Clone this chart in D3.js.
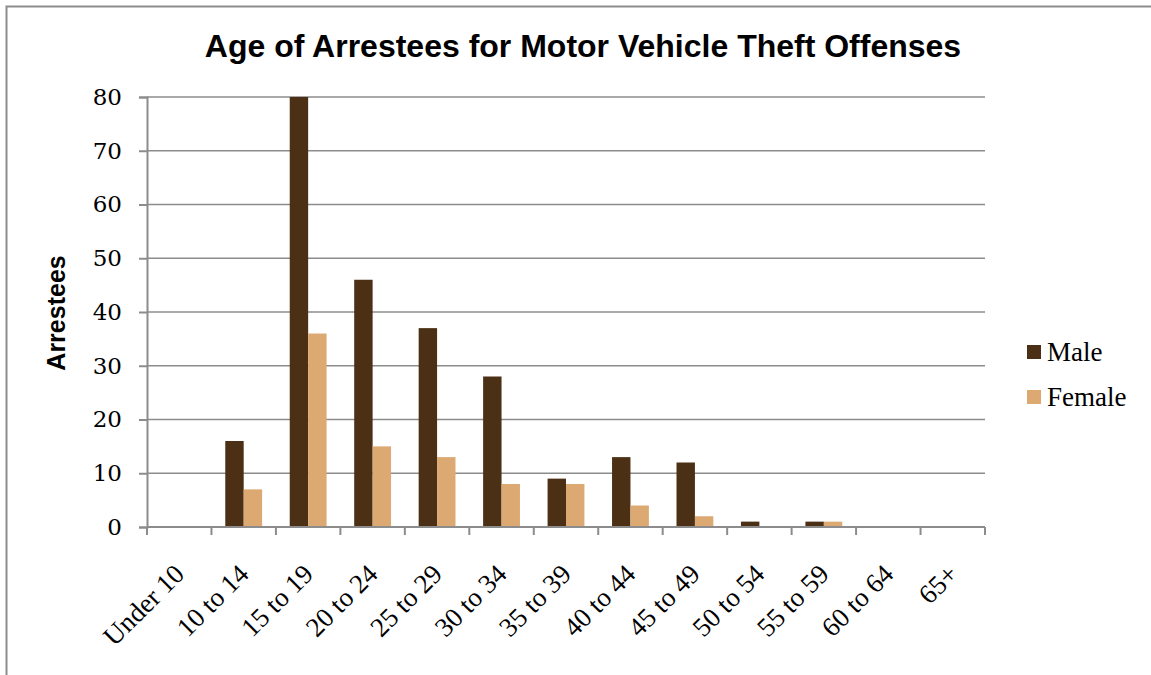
<!DOCTYPE html>
<html>
<head>
<meta charset="utf-8">
<script src="https://cdn.jsdelivr.net/npm/d3@7"></script>
<style>
  body { margin: 0; background: #fff; }
  text { fill: #000; }
</style>
</head>
<body>
<div id="chart"></div>
<script>
// chart data
var ageGroups = ["Under 10", "10 to 14", "15 to 19", "20 to 24", "25 to 29", "30 to 34",
    "35 to 39", "40 to 44", "45 to 49", "50 to 54", "55 to 59", "60 to 64", "65+"];
var maleCounts = [0, 16, 80, 46, 37, 28, 9, 13, 12, 1, 1, 0, 0];
var femaleCounts = [0, 7, 36, 15, 13, 8, 8, 4, 2, 0, 1, 0, 0];
var seriesNames = ["Male", "Female"];
var yTicks = [0, 10, 20, 30, 40, 50, 60, 70, 80];

var width = 1151;
var height = 675;
var margin = { top: 97, right: 166, bottom: 148, left: 147 };
var serif = "'Liberation Serif', 'DejaVu Serif', serif";
var sans = "'Liberation Sans', Arial, sans-serif";

var svg = d3.select("#chart")
    .append("svg")
    .attr("width", width)
    .attr("height", height);

// outer frame (right and bottom edges run off the picture)
svg.append("rect")
    .attr("x", 6.5)
    .attr("y", 6.5)
    .attr("width", width + 20)
    .attr("height", height + 20)
    .attr("fill", "none")
    .attr("stroke", "#8c8c8c")
    .attr("stroke-width", 2);

var x = d3.scaleBand()
    .domain(ageGroups)
    .range([margin.left, width - margin.right])
    .paddingInner(0)
    .paddingOuter(0);

var xSeries = d3.scaleBand()
    .domain(seriesNames)
    .range([0, x.bandwidth()])
    .paddingInner(0)
    .paddingOuter(0.75);

var y = d3.scaleLinear()
    .domain([0, 80])
    .range([height - margin.bottom, margin.top]);

var colors = d3.scaleOrdinal()
    .domain(seriesNames)
    .range(["#4b3015", "#dda972"]);

// gridlines
svg.append("g")
    .selectAll("line")
    .data(yTicks.slice(1))
    .enter()
    .append("line")
    .attr("x1", margin.left)
    .attr("x2", width - margin.right)
    .attr("y1", function(d) { return y(d); })
    .attr("y2", function(d) { return y(d); })
    .attr("stroke", "#8c8c8c")
    .attr("stroke-width", 1.6);

// y axis
var yAxis = svg.append("g")
    .attr("transform", "translate(" + margin.left + ",0)")
    .call(d3.axisLeft(y).tickValues(yTicks).tickSize(8).tickPadding(17));
yAxis.select(".domain").attr("stroke", "#8c8c8c").attr("stroke-width", 2);
yAxis.selectAll(".tick line").attr("stroke", "#8c8c8c").attr("stroke-width", 2);
yAxis.selectAll(".tick text")
    .style("font-family", "'DejaVu Serif', serif")
    .style("font-size", "23px")
    .attr("fill", "#000");

// bars
var rows = ageGroups.map(function(g, i) {
    return { group: g, values: [
        { name: "Male", value: maleCounts[i] },
        { name: "Female", value: femaleCounts[i] }
    ] };
});

var groups = svg.append("g")
    .selectAll("g")
    .data(rows)
    .enter()
    .append("g")
    .attr("transform", function(d) { return "translate(" + x(d.group) + ",0)"; });

groups.selectAll("rect")
    .data(function(d) { return d.values; })
    .enter()
    .append("rect")
    .attr("x", function(d) { return xSeries(d.name); })
    .attr("width", xSeries.bandwidth())
    .attr("y", function(d) { return y(d.value); })
    .attr("height", function(d) { return y(0) - y(d.value); })
    .attr("fill", function(d) { return colors(d.name); });

// x axis
var xAxis = svg.append("g")
    .attr("transform", "translate(0," + (height - margin.bottom) + ")")
    .call(d3.axisBottom(x).tickSize(0).tickFormat(""));
xAxis.select(".domain").remove();
xAxis.append("line")
    .attr("x1", margin.left)
    .attr("x2", width - margin.right)
    .attr("stroke", "#8c8c8c")
    .attr("stroke-width", 2);
// tick marks sit on band boundaries
xAxis.selectAll(".bound")
    .data(ageGroups.concat(["end"]))
    .enter()
    .append("line")
    .attr("x1", function(d, i) { return margin.left + i * x.bandwidth(); })
    .attr("x2", function(d, i) { return margin.left + i * x.bandwidth(); })
    .attr("y1", 0)
    .attr("y2", 8)
    .attr("stroke", "#8c8c8c")
    .attr("stroke-width", 2);

xAxis.selectAll(".lbl")
    .data(ageGroups)
    .enter()
    .append("text")
    .attr("transform", function(d) {
        return "translate(" + (x(d) + x.bandwidth() / 2) + ",42) rotate(-45)";
    })
    .attr("text-anchor", "end")
    .attr("dy", "0.35em")
    .style("font-family", serif)
    .style("font-size", "27px")
    .text(function(d) { return d; });

// title
svg.append("text")
    .attr("x", 583)
    .attr("y", 57)
    .attr("text-anchor", "middle")
    .style("font-family", sans)
    .style("font-weight", "bold")
    .style("font-size", "32px")
    .text("Age of Arrestees for Motor Vehicle Theft Offenses");

// y axis label
svg.append("text")
    .attr("transform", "translate(65,313) rotate(-90)")
    .attr("text-anchor", "middle")
    .style("font-family", sans)
    .style("font-weight", "bold")
    .style("font-size", "25px")
    .text("Arrestees");

// legend
var legend = svg.append("g")
    .selectAll("g")
    .data(seriesNames)
    .enter()
    .append("g")
    .attr("transform", function(d, i) { return "translate(1027," + (345 + i * 45) + ")"; });

legend.append("rect")
    .attr("width", 14)
    .attr("height", 14)
    .attr("fill", function(d) { return colors(d); });

legend.append("text")
    .attr("x", 20)
    .attr("y", 7)
    .attr("dy", "0.35em")
    .style("font-family", serif)
    .style("font-size", "27px")
    .text(function(d) { return d; });
</script>
</body>
</html>
